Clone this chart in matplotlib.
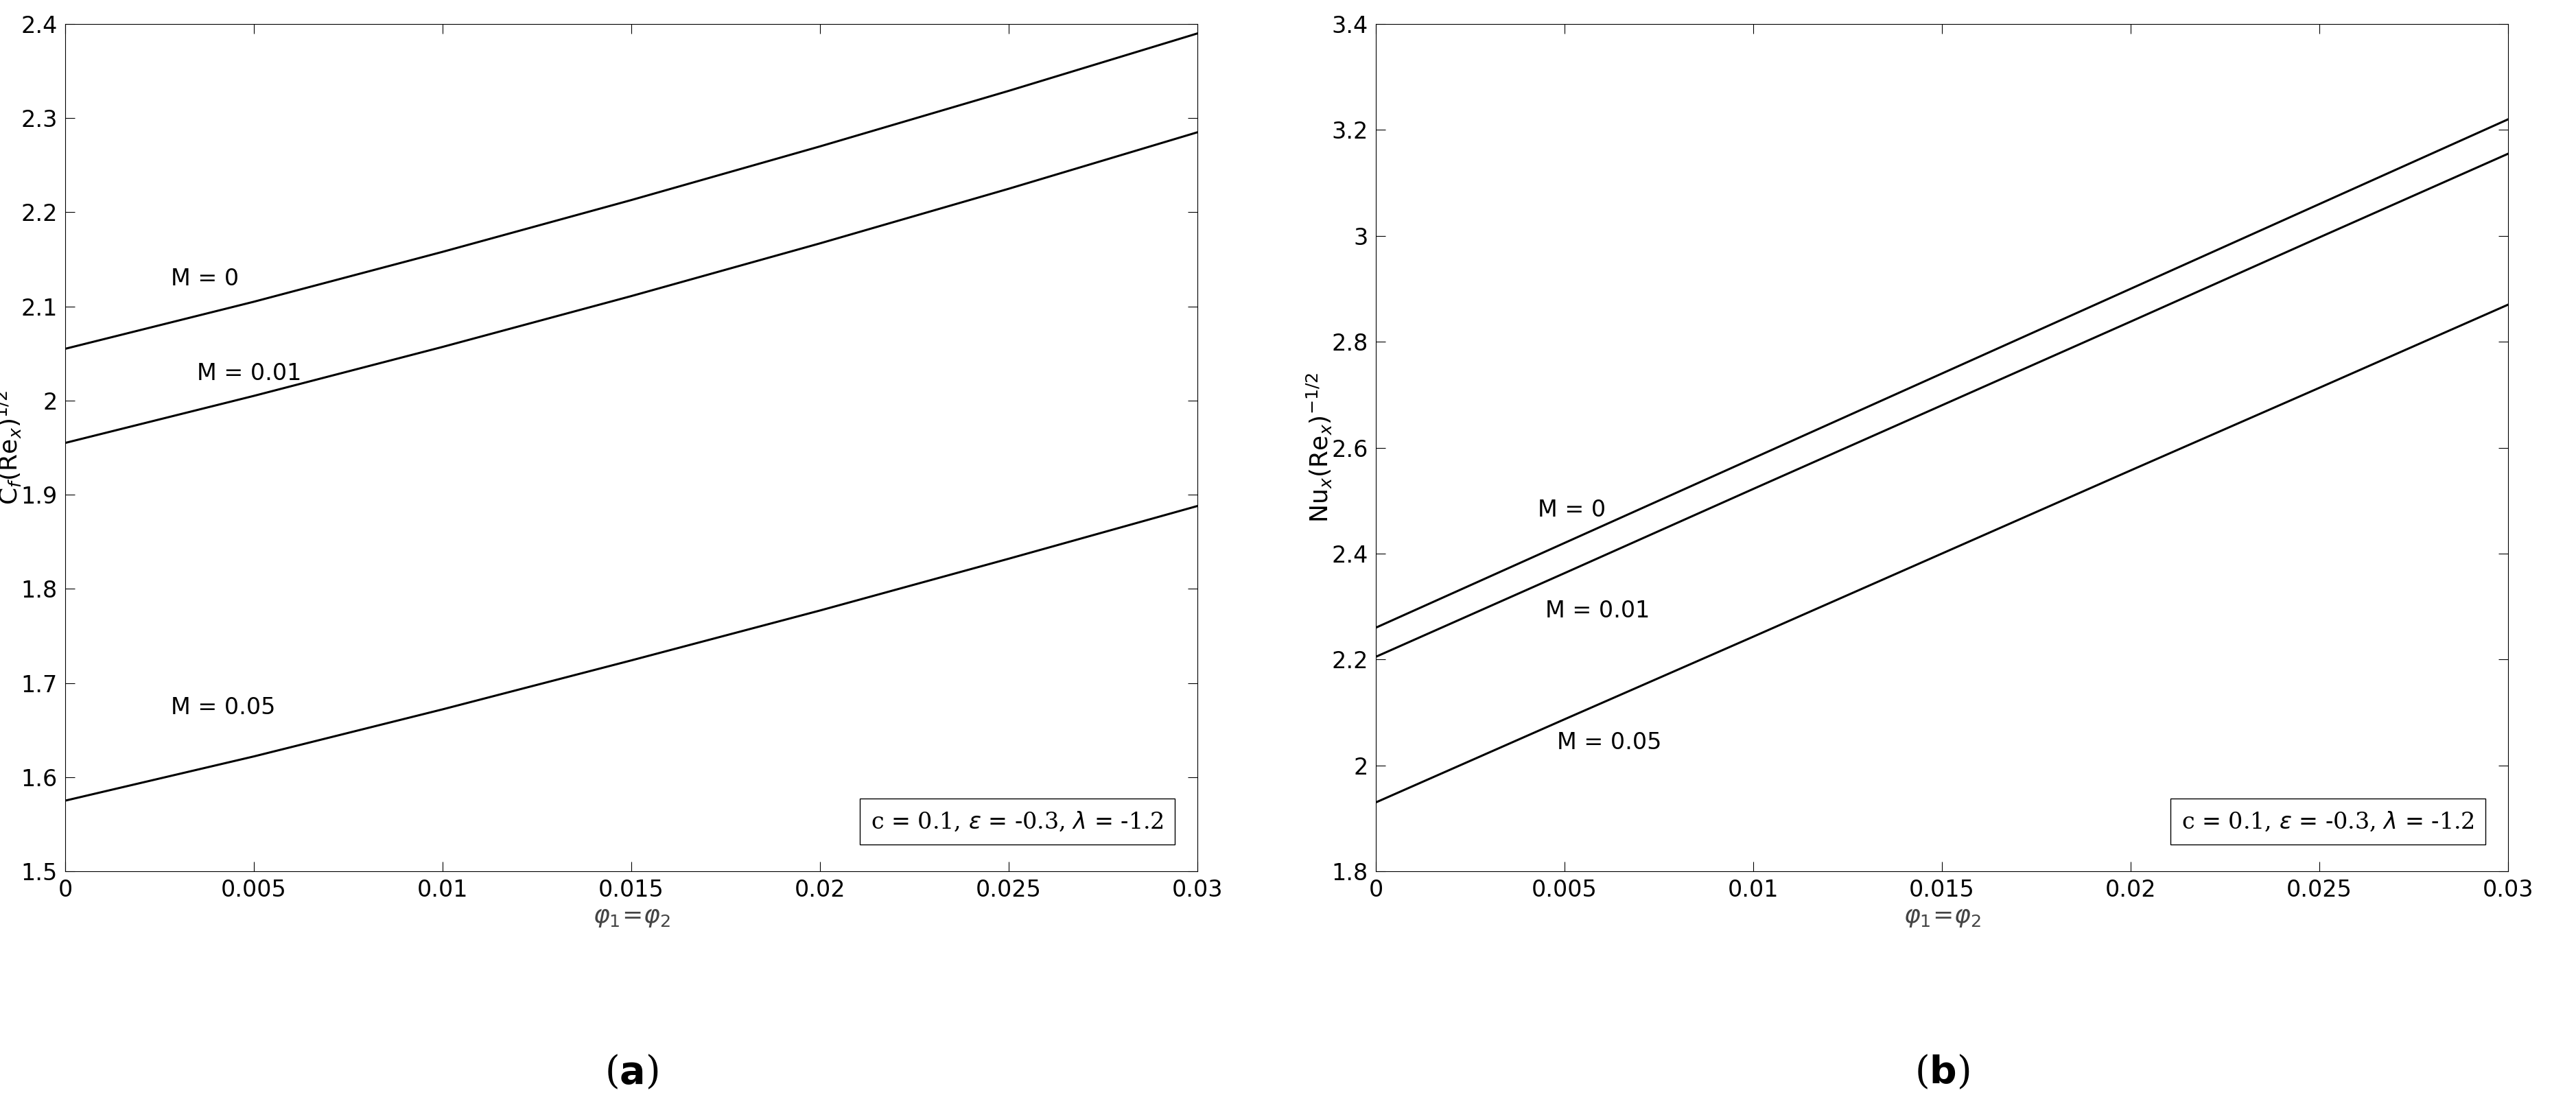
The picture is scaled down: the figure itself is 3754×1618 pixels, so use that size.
import matplotlib
matplotlib.use("Agg")
import matplotlib.pyplot as plt

phi = [0, 0.005, 0.01, 0.015, 0.02, 0.025, 0.03]
cf_M0 = [2.055, 2.105, 2.158, 2.213, 2.270, 2.329, 2.390]
cf_M001 = [1.955, 2.005, 2.057, 2.111, 2.167, 2.225, 2.285]
cf_M005 = [1.575, 1.622, 1.672, 1.724, 1.777, 1.832, 1.888]
nu_M0 = [2.26, 2.42, 2.58, 2.74, 2.90, 3.06, 3.22]
nu_M001 = [2.205, 2.363, 2.522, 2.680, 2.838, 2.997, 3.155]
nu_M005 = [1.93, 2.087, 2.243, 2.400, 2.557, 2.713, 2.87]
labels = ["M = 0", "M = 0.01", "M = 0.05"]

fig = plt.figure(figsize=(37.55, 16.18), dpi=100)
axL = fig.add_axes([95/3755, 1-1270/1618, 1650/3755, 1235/1618])
axR = fig.add_axes([2005/3755, 1-1270/1618, 1650/3755, 1235/1618])

def setup(ax, series, ylim, yticks, ylabel, lab_pos, sub):
    for s in series:
        ax.plot(phi, s, color="black", lw=2.2)
    for t, p in zip(labels, lab_pos):
        ax.text(p[0], p[1], t, fontsize=24)
    ax.set_xlim(0, 0.03)
    ax.set_ylim(*ylim)
    ax.set_yticks(yticks)
    ax.set_xticks([0, 0.005, 0.01, 0.015, 0.02, 0.025, 0.03])
    ax.set_xticklabels(["0", "0.005", "0.01", "0.015", "0.02", "0.025", "0.03"])
    ax.tick_params(labelsize=24, direction="in", length=10, top=True, right=True, pad=8)
    ax.set_xlabel(r"$\varphi_1\!=\!\varphi_2$", fontsize=26, color="#444444")
    ax.set_ylabel(ylabel, fontsize=26)
    ax.yaxis.set_label_coords(-0.037, 0.5)
    ax.text(0.97, 0.045, r"c = 0.1, $\varepsilon$ = -0.3, $\lambda$ = -1.2",
            transform=ax.transAxes, ha="right", va="bottom", family="DejaVu Serif",
            fontsize=24, bbox=dict(facecolor="white", edgecolor="black", pad=12))
    ax.text(0.5, -0.25, sub, transform=ax.transAxes, ha="center", fontsize=40,
            family="DejaVu Serif")

setup(axL, [cf_M0, cf_M001, cf_M005], (1.5, 2.4),
      [1.5, 1.6, 1.7, 1.8, 1.9, 2.0, 2.1, 2.2, 2.3, 2.4],
      r"C$_f$(Re$_x$)$^{1/2}$",
      [(0.0028, 2.122), (0.0035, 2.022), (0.0028, 1.667)], r"($\mathbf{a}$)")
axL.set_yticklabels(["1.5", "1.6", "1.7", "1.8", "1.9", "2", "2.1", "2.2", "2.3", "2.4"])
setup(axR, [nu_M0, nu_M001, nu_M005], (1.8, 3.4),
      [1.8, 2.0, 2.2, 2.4, 2.6, 2.8, 3.0, 3.2, 3.4],
      r"Nu$_x$(Re$_x$)$^{-1/2}$",
      [(0.0043, 2.47), (0.0045, 2.28), (0.0048, 2.03)], r"($\mathbf{b}$)")
axR.set_yticklabels(["1.8", "2", "2.2", "2.4", "2.6", "2.8", "3", "3.2", "3.4"])
fig.savefig("out.png", dpi=100)
